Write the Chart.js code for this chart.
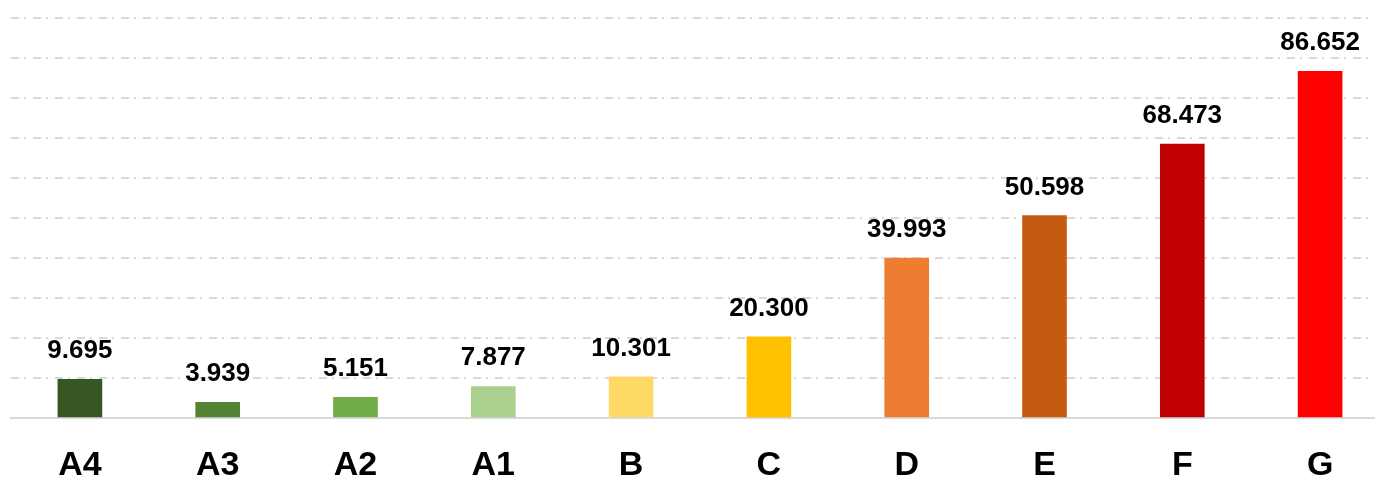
<!DOCTYPE html>
<html>
<head>
<meta charset="utf-8">
<script src="https://cdn.jsdelivr.net/npm/chart.js@4.4.0/dist/chart.umd.min.js"></script>
<style>
  html, body { margin: 0; padding: 0; background: #fff; overflow: hidden; }
  #wrap { width: 1400px; height: 477px; }
</style>
</head>
<body>
<div id="wrap"><canvas id="grafico" width="1400" height="477"></canvas></div>
<script>
// Datos
const categorias = ["A4", "A3", "A2", "A1", "B", "C", "D", "E", "F", "G"];
const valores = [9.695, 3.939, 5.151, 7.877, 10.301, 20.300, 39.993, 50.598, 68.473, 86.652];
const colores = ["#375623", "#548235", "#70AD47", "#A9D08E", "#FFD966", "#FFC000", "#ED7D31", "#C55A11", "#C00000", "#FF0000"];

// Etiquetas encima de las barras
const etiquetas = {
    id: 'etiquetas',
    afterDatasetsDraw(chart) {
        const ctx = chart.ctx;
        const meta = chart.getDatasetMeta(0);
        ctx.save();
        ctx.font = 'bold 26px "Liberation Sans", Arial, sans-serif';
        ctx.fillStyle = '#000';
        ctx.textAlign = 'center';
        ctx.textBaseline = 'alphabetic';
        meta.data.forEach((bar, i) => {
            ctx.fillText(valores[i].toFixed(3), bar.x, bar.y - 21);
        });
        ctx.restore();
    }
};

new Chart(document.getElementById('grafico'), {
    type: 'bar',
    data: {
        labels: categorias,
        datasets: [
            {
                data: valores,
                backgroundColor: colores,
                barThickness: 44
            }
        ]
    },
    options: {
        responsive: false,
        animation: false,
        layout: {
            padding: { left: 11, right: 11, top: 18, bottom: 0 }
        },
        plugins: {
            legend: { display: false },
            tooltip: { enabled: false }
        },
        scales: {
            x: {
                grid: { display: false, drawTicks: false },
                border: { display: true, color: '#d9d9d9', width: 2 },
                ticks: {
                    color: '#000',
                    padding: 27,
                    font: { family: '"Liberation Sans", Arial, sans-serif', size: 34, weight: 'bold' }
                },
                afterFit: (axis) => { axis.height = 59; }
            },
            y: {
                min: 0,
                max: 100,
                ticks: { display: false, stepSize: 10 },
                border: { display: false, dash: [8, 5, 2, 7] },
                grid: {
                    drawTicks: false,
                    lineWidth: 2,
                    color: (c) => c.tick && c.tick.value === 0 ? 'rgba(0,0,0,0)' : '#d9d9d9'
                },
                afterFit: (axis) => { axis.width = 0; }
            }
        }
    },
    plugins: [etiquetas]
});
</script>
</body>
</html>
